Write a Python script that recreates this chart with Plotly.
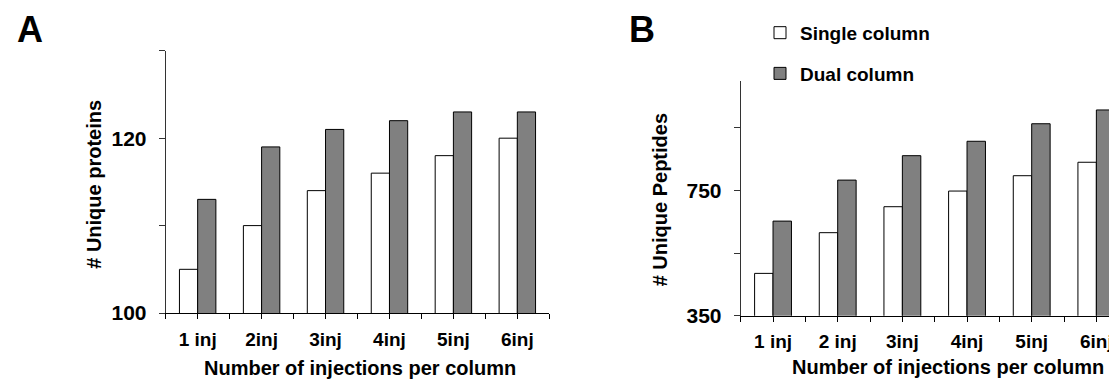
import plotly.graph_objects as go

categories_A = ["1 inj", "2inj", "3inj", "4inj", "5inj", "6inj"]
categories_B = ["1 inj", "2 inj", "3inj", "4inj", "5inj", "6inj"]
single_A = [105, 110, 114, 116, 118, 120]
dual_A = [113, 119, 121, 122, 123, 123]
single_B = [485, 615, 698, 748, 797, 840]
dual_B = [652, 783, 861, 907, 963, 1007]
series_names = ["Single column", "Dual column"]
yticks_A = [100, 110, 120, 130]
yticklabels_A = ["100", "", "120", ""]
yticks_B = [350, 550, 750, 950]
yticklabels_B = ["350", "", "750", ""]

W, H = 1117, 385
FONT = "Liberation Sans, Arial, sans-serif"


def px_x(v):
    return v / W


def px_y(v):
    return 1 - v / H


def xticks(cats):
    vals, text = [], []
    for i, c in enumerate(cats):
        vals += [i - 0.5, i]
        text += ["", c]
    vals.append(len(cats) - 0.5)
    text.append("")
    return vals, text


fig = go.Figure()
xs = list(range(len(categories_A)))
fig.add_trace(go.Bar(x=xs, y=single_A, name=series_names[0], marker=dict(color="white", line=dict(color="black", width=1)),
                     xaxis="x", yaxis="y", showlegend=False, legendgroup="s"))
fig.add_trace(go.Bar(x=xs, y=dual_A, name=series_names[1], marker=dict(color="#808080", line=dict(color="black", width=1)),
                     xaxis="x", yaxis="y", showlegend=False, legendgroup="d"))
fig.add_trace(go.Bar(x=xs, y=single_B, name=series_names[0], marker=dict(color="white", line=dict(color="black", width=1)),
                     xaxis="x2", yaxis="y2", legendgroup="s"))
fig.add_trace(go.Bar(x=xs, y=dual_B, name=series_names[1], marker=dict(color="#808080", line=dict(color="black", width=1)),
                     xaxis="x2", yaxis="y2", legendgroup="d"))

tvA, ttA = xticks(categories_A)
tvB, ttB = xticks(categories_B)

common_x = dict(showline=True, linecolor="black", linewidth=1, ticks="outside", ticklen=5, tickcolor="black",
                showgrid=False, zeroline=False, tickfont=dict(family=FONT, size=19, color="black", weight="bold"),
                ticklabelstandoff=4)
common_y = dict(showline=True, linecolor="#333", linewidth=1, ticks="outside", ticklen=6, tickcolor="#333",
                showgrid=False, zeroline=False, tickfont=dict(family=FONT, size=21, color="black", weight="bold"),
                ticklabelstandoff=8)

fig.update_layout(
    width=W, height=H, margin=dict(l=0, r=0, t=0, b=0),
    paper_bgcolor="white", plot_bgcolor="white",
    barmode="group", bargap=0.43, bargroupgap=0,
    xaxis=dict(domain=[px_x(157.7), px_x(541.3)], range=[-0.5, 5.5], tickvals=tvA, ticktext=ttA, anchor="y", **common_x),
    yaxis=dict(domain=[px_y(314), px_y(44)], range=[100, 130], tickvals=yticks_A, ticktext=yticklabels_A, anchor="x", **common_y),
    xaxis2=dict(domain=[px_x(732.7), 1.0], range=[-0.5, 5.5 - (1120.7 - 1117) / 64.7], tickvals=tvB, ticktext=ttB, anchor="y2", **common_x),
    yaxis2=dict(domain=[px_y(316.7), px_y(75)], range=[350, 1100], tickvals=yticks_B, ticktext=yticklabels_B, anchor="x2", **common_y),
    legend=dict(x=px_x(752), y=px_y(6), xanchor="left", yanchor="top", traceorder="grouped", tracegroupgap=13,
                font=dict(family=FONT, size=19, color="black", weight="bold"), bgcolor="rgba(0,0,0,0)", borderwidth=0),
    showlegend=True,
)

ann = [
    dict(text="A", x=px_x(22), y=px_y(22), font=dict(family="Liberation Sans, Arial", size=36, weight="bold", color="black")),
    dict(text="B", x=px_x(634), y=px_y(22), font=dict(family="Liberation Sans, Arial", size=36, weight="bold", color="black")),
    dict(text="# Unique proteins", x=px_x(86), y=px_y(182), textangle=-90,
         font=dict(family=FONT, size=20, weight="bold", color="black")),
    dict(text="# Unique Peptides", x=px_x(652), y=px_y(198), textangle=-90,
         font=dict(family=FONT, size=20, weight="bold", color="black")),
    dict(text="Number of injections per column", x=px_x(352), y=px_y(371),
         font=dict(family=FONT, size=20, weight="bold", color="black")),
    dict(text="Number of injections per column", x=px_x(940), y=px_y(370),
         font=dict(family=FONT, size=20, weight="bold", color="black")),
]
for a in ann:
    a.update(xref="paper", yref="paper", showarrow=False, xanchor="center", yanchor="middle")
fig.update_layout(annotations=ann)

fig.write_html("out.html")
